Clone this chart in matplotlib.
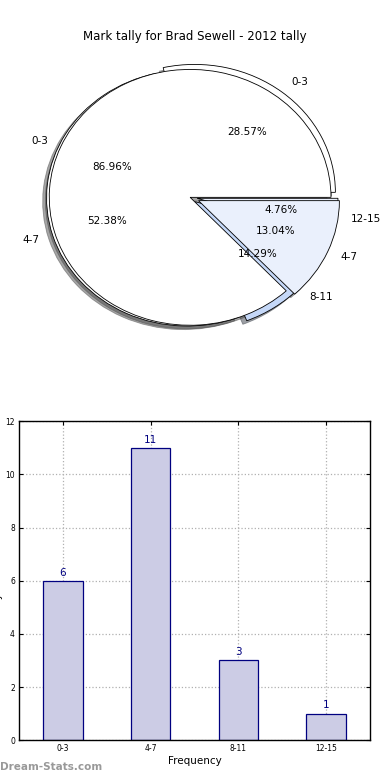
import matplotlib
matplotlib.use('Agg')
import matplotlib.pyplot as plt

# 資料
ranges = ['0-3', '4-7', '8-11', '12-15']
counts = [6, 11, 3, 1]
group_labels = ['0-3', '4-7']
group_counts = [20, 3]

navy = '#000080'

if __name__ == '__main__':
    fig = plt.figure(figsize=(3.9, 7.8), dpi=100)
    fig.suptitle('Mark tally for Brad Sewell - 2012 tally', y=0.962, fontsize=8.5)

    # 上方: 兩個圓餅圖疊在一起
    ax1 = fig.add_axes([0.036, 0.542, 0.903, 0.41])
    ax1.pie(counts, labels=ranges, autopct='%.2f%%', shadow=True,
            explode=[0.05, 0.02, 0.05, 0.05],
            colors=['white', 'white', '#c5d8f8', '#eaf0fc'],
            wedgeprops={'edgecolor': 'black', 'linewidth': 0.6},
            textprops={'fontsize': 7.5})
    ax1.pie(group_counts, labels=group_labels, autopct='%.2f%%', shadow=True,
            explode=[0, 0.065],
            colors=['white', '#eaf0fc'],
            wedgeprops={'edgecolor': 'black', 'linewidth': 0.6},
            textprops={'fontsize': 7.5})
    ax1.set_aspect('auto')
    ax1.set_xlim(-1.25, 1.25)
    ax1.set_ylim(-1.25, 1.25)

    # 下方: 長條圖
    ax2 = fig.add_axes([0.049, 0.051, 0.9, 0.409])
    x = range(len(ranges))
    bars = ax2.bar(x, counts, width=0.45, color='#ccccE5', edgecolor=navy, linewidth=0.9, zorder=2)
    for b, v in zip(bars, counts):
        ax2.text(b.get_x() + b.get_width() / 2, v + 0.12, str(v), ha='center', va='bottom',
                 color=navy, fontsize=7.5)
    ax2.set_xlim(-0.5, 3.5)
    ax2.set_ylim(0, 12)
    ax2.set_xticks(list(x))
    ax2.set_xticklabels(ranges)
    ax2.set_yticks(range(0, 13, 2))
    ax2.tick_params(labelsize=5.5, direction='in', top=True, right=True, length=3, pad=3)
    ax2.grid(True, linestyle=':', color='#b0b0b0', linewidth=0.9, zorder=0)
    ax2.set_axisbelow(True)
    for s in ax2.spines.values():
        s.set_linewidth(1.0)
    ax2.set_xlabel('Frequency', fontsize=7.5, labelpad=2)
    # y 軸標籤在原圖中被左邊界切掉
    fig.text(-0.004, 0.256, 'Tally of marks', rotation=90, fontsize=7.5, ha='center', va='center')

    fig.text(0.0, 0.01, 'Dream-Stats.com', color='#999999', fontsize=7.5, fontweight='bold', ha='left', va='bottom')

    plt.savefig('out.png', dpi=100)
